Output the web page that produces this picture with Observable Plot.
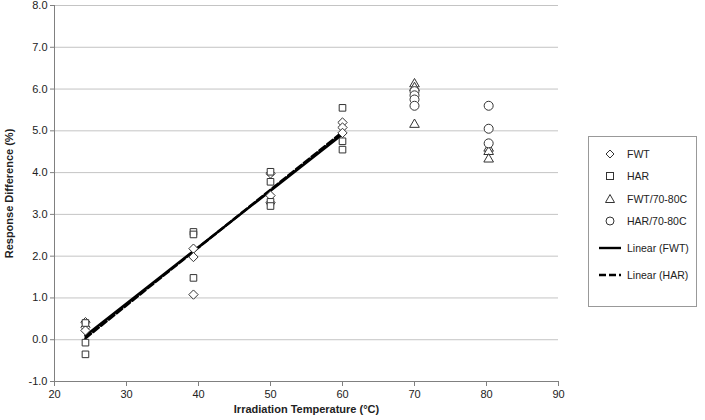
<!DOCTYPE html>
<html>
<head>
<meta charset="utf-8">
<script src="https://cdn.jsdelivr.net/npm/d3@7"></script>
<script src="https://cdn.jsdelivr.net/npm/@observablehq/plot@0.6"></script>
<style>
  html, body { margin: 0; padding: 0; background: #fff; }
  #wrap { position: relative; width: 705px; height: 420px; font-family: "Liberation Sans", Arial, sans-serif; }
  #wrap svg [aria-label$="axis label"] text { font-weight: bold; }
  #legend { position: absolute; left: 588px; top: 136px; width: 109px; height: 171px; border: 1px solid #999; box-sizing: border-box; background: #fff; }
  .item { position: absolute; left: 0; height: 14px; display: flex; align-items: center; font-size: 10.5px; color: #222; }
  .item svg { width: 30px; height: 14px; margin-left: 6px; }
  .item span { margin-left: 2px; }
</style>
</head>
<body>
<div id="wrap"></div>
<script>
// --- data ---
const fwtTemp = [24.3, 24.3, 24.3, 39.3, 39.3, 39.3, 50, 50, 50, 60, 60, 60];
const fwtDiff = [0.42, 0.30, 0.22, 2.18, 1.98, 1.08, 3.98, 3.45, 3.28, 5.20, 5.08, 4.95];

const harTemp = [24.3, 24.3, 24.3, 39.3, 39.3, 39.3, 50, 50, 50, 50, 60, 60, 60];
const harDiff = [0.40, -0.07, -0.35, 2.58, 2.52, 1.48, 4.02, 3.78, 3.30, 3.20, 5.55, 4.75, 4.55];

const fwtHotTemp = [70, 70, 70, 80.3, 80.3, 80.3];
const fwtHotDiff = [6.12, 6.03, 5.15, 4.58, 4.50, 4.32];

const harHotTemp = [70, 70, 70, 70, 80.3, 80.3, 80.3];
const harHotDiff = [5.95, 5.85, 5.75, 5.60, 5.60, 5.05, 4.70];

const xTicks = [20, 30, 40, 50, 60, 70, 80, 90];
const yTicks = [-1, 0, 1, 2, 3, 4, 5, 6, 7, 8];

const legendLabels = ["FWT", "HAR", "FWT/70-80C", "HAR/70-80C", "Linear (FWT)", "Linear (HAR)"];

const toRows = (xs, ys) => xs.map((x, i) => ({x, y: ys[i]}));
const fwt = toRows(fwtTemp, fwtDiff);
const har = toRows(harTemp, harDiff);
const fwtHot = toRows(fwtHotTemp, fwtHotDiff);
const harHot = toRows(harHotTemp, harHotDiff);

const dotStyle = {x: "x", y: "y", stroke: "#333", fill: "white", strokeWidth: 1};

const chart = Plot.plot({
  width: 705,
  height: 420,
  marginLeft: 54,
  marginRight: 147,
  marginTop: 5,
  marginBottom: 39,
  style: {fontFamily: "Liberation Sans, Arial, sans-serif", fontSize: "11px", color: "#222", background: "white"},
  x: {domain: [20, 90]},
  y: {domain: [-1, 8]},
  marks: [
    Plot.gridY(yTicks, {stroke: "#c4c4c4", strokeOpacity: 1}),
    Plot.ruleX([20], {stroke: "#808080"}),
    Plot.ruleY([-1], {stroke: "#808080"}),
    Plot.axisY({ticks: yTicks, tickFormat: d => d.toFixed(1), tickSize: 4, tickPadding: 3, stroke: "#808080",
      label: "Response Difference (%)", labelAnchor: "center", labelArrow: "none", labelOffset: 49}),
    Plot.axisX({ticks: xTicks, tickFormat: d => String(d), tickSize: 5, tickPadding: 4, stroke: "#808080",
      label: "Irradiation Temperature (°C)", labelAnchor: "center", labelArrow: "none", labelOffset: 31}),
    Plot.linearRegressionY(fwt, {x: "x", y: "y", stroke: "black", strokeWidth: 2.5, ci: 0}),
    Plot.linearRegressionY(har, {x: "x", y: "y", stroke: "black", strokeWidth: 2.5, strokeDasharray: "7,3", ci: 0}),
    Plot.dot(fwt, {...dotStyle, symbol: "diamond2", r: 4.2}),
    Plot.dot(har, {...dotStyle, symbol: "square2", r: 4.2}),
    Plot.dot(fwtHot, {...dotStyle, symbol: "triangle2", r: 4.6}),
    Plot.dot(harHot, {...dotStyle, symbol: "circle", r: 4.5})
  ]
});

const wrap = document.getElementById("wrap");
wrap.appendChild(chart);

// legend
const legend = document.createElement("div");
legend.id = "legend";
const symbols = [
  '<path d="M15,3 L19,7 L15,11 L11,7 Z" fill="white" stroke="#333"/>',
  '<rect x="11.5" y="3.5" width="7" height="7" fill="white" stroke="#333"/>',
  '<path d="M15,2.5 L19.5,10.5 L10.5,10.5 Z" fill="white" stroke="#333"/>',
  '<circle cx="15" cy="7" r="4" fill="white" stroke="#333"/>',
  '<line x1="4" y1="7" x2="26" y2="7" stroke="black" stroke-width="2.4"/>',
  '<line x1="4" y1="7" x2="26" y2="7" stroke="black" stroke-width="2.4" stroke-dasharray="7,3"/>'
];
const tops = [10, 32, 55, 77, 104, 131];
legendLabels.forEach((lab, i) => {
  const it = document.createElement("div");
  it.className = "item";
  it.style.top = tops[i] + "px";
  it.innerHTML = `<svg viewBox="0 0 30 14">${symbols[i]}</svg><span>${lab}</span>`;
  legend.appendChild(it);
});
wrap.appendChild(legend);
</script>
</body>
</html>
